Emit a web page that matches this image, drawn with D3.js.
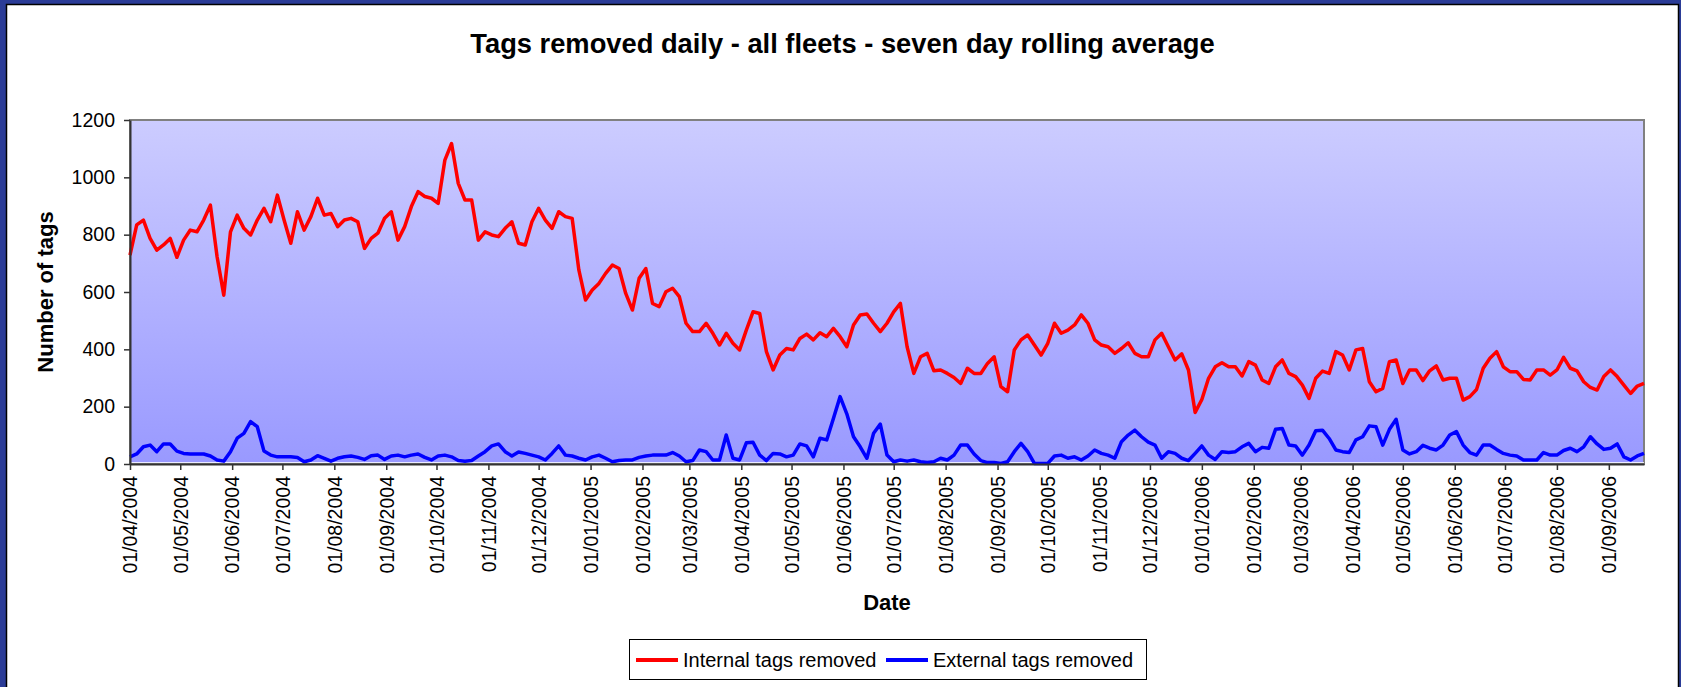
<!DOCTYPE html>
<html>
<head>
<meta charset="utf-8">
<title>Tags removed daily</title>
<script src="https://cdn.jsdelivr.net/npm/d3@7"></script>
<style>
    html, body { margin: 0; padding: 0; background: #2b3c97; }
    svg { display: block; font-family: "Liberation Sans", Arial, sans-serif; }
</style>
</head>
<body>
<div id="chart"></div>
<script>
// seven day rolling averages, every 4th day from 01/04/2004
const startDate = "2004-04-01";
const endDate = "2006-09-22";
const stepDays = 4;

const internalTags = [
    729, 834, 851, 787, 746, 764, 787, 721, 781, 816,
    810, 851, 903, 723, 589, 810, 868, 822, 799, 851,
    892, 845, 938, 851, 770, 880, 816, 863, 927, 868,
    874, 828, 851, 857, 845, 752, 787, 805, 857, 880,
    781, 828, 898, 950, 933, 927, 909, 1060, 1118, 979,
    921, 921, 781, 810, 799, 793, 822, 845, 770, 764,
    845, 892, 851, 822, 880, 863, 857, 677, 572, 607,
    630, 665, 694, 682, 595, 537, 648, 682, 560, 549,
    601, 613, 584, 491, 462, 462, 491, 456, 415, 456,
    421, 398, 467, 531, 525, 392, 328, 380, 403, 398,
    438, 453, 433, 458, 444, 473, 444, 409, 485, 520,
    523, 491, 462, 491, 531, 560, 409, 316, 374, 386,
    325, 328, 316, 302, 281, 334, 316, 316, 351, 374,
    270, 252, 398, 433, 450, 415, 380, 421, 491, 456,
    467, 485, 520, 491, 433, 415, 409, 386, 403, 423,
    386, 374, 374, 433, 456, 409, 363, 384, 328, 180,
    225, 299, 339, 353, 339, 339, 307, 357, 345, 293,
    281, 339, 363, 316, 305, 275, 229, 299, 324, 316,
    392, 380, 328, 398, 403, 287, 252, 264, 357, 363,
    281, 328, 328, 291, 325, 342, 293, 299, 299, 223,
    235, 260, 334, 369, 392, 339, 322, 322, 295, 293,
    328, 328, 310, 328, 372, 334, 325, 287, 267, 258,
    305, 328, 305, 275, 246, 272, 281
];

const externalTags = [
    25, 35, 60, 66, 43, 70, 70, 45, 37, 35,
    35, 35, 28, 14, 10, 43, 90, 107, 148, 130,
    45, 31, 25, 25, 25, 23, 8, 14, 29, 20,
    10, 20, 25, 28, 23, 16, 29, 31, 16, 28,
    31, 25, 31, 35, 23, 14, 28, 31, 25, 12,
    10, 12, 28, 43, 63, 70, 43, 28, 42, 37,
    31, 25, 14, 37, 63, 31, 28, 20, 14, 25,
    31, 20, 8, 12, 14, 14, 23, 28, 31, 31,
    31, 40, 28, 8, 12, 49, 43, 14, 14, 101,
    20, 14, 74, 76, 31, 12, 37, 35, 25, 31,
    70, 63, 25, 90, 84, 159, 235, 175, 95, 60,
    20, 107, 139, 31, 8, 14, 10, 14, 8, 5,
    8, 20, 14, 31, 66, 66, 35, 12, 5, 5,
    2, 8, 43, 72, 43, 2, 2, 2, 28, 31,
    20, 25, 14, 28, 49, 37, 31, 20, 78, 101,
    118, 95, 76, 66, 20, 43, 37, 20, 12, 37,
    63, 31, 16, 43, 40, 43, 60, 72, 43, 58,
    55, 121, 124, 66, 63, 31, 66, 116, 118, 89,
    49, 43, 40, 84, 95, 133, 130, 66, 121, 156,
    49, 35, 43, 65, 55, 49, 66, 101, 113, 66,
    40, 31, 66, 66, 51, 37, 31, 28, 14, 14,
    14, 40, 31, 31, 47, 55, 43, 60, 95, 70,
    51, 55, 70, 25, 14, 28, 37
];

const yTicks = [0, 200, 400, 600, 800, 1000, 1200];
const seriesNames = ["Internal tags removed", "External tags removed"];
const seriesColors = ["#ff0000", "#0000ff"];

document.addEventListener('DOMContentLoaded', () => {
    const width = 1681;
    const height = 687;
    const plot = { left: 130, right: 1644, top: 120, bottom: 464 };

    const svg = d3.select("#chart")
        .append("svg")
        .attr("width", width)
        .attr("height", height);

    // frame
    svg.append("rect")
        .attr("width", width).attr("height", height)
        .attr("fill", "#2b3c97");
    svg.append("rect")
        .attr("x", 6.5).attr("y", 4.5)
        .attr("width", 1672).attr("height", 720)
        .attr("fill", "#fff")
        .attr("stroke", "#000")
        .attr("stroke-width", 1.5);

    const parse = d3.utcParse("%Y-%m-%d");
    const t0 = parse(startDate);
    const t1 = parse(endDate);
    const dates = internalTags.map((d, i) => d3.utcDay.offset(t0, i * stepDays));

    const x = d3.scaleUtc()
        .domain([t0, t1])
        .range([plot.left, plot.right]);

    const y = d3.scaleLinear()
        .domain([0, 1200])
        .range([plot.bottom, plot.top]);

    // plot area gradient
    const defs = svg.append("defs");
    const grad = defs.append("linearGradient")
        .attr("id", "bg")
        .attr("x1", 0).attr("y1", 0).attr("x2", 0).attr("y2", 1);
    grad.append("stop").attr("offset", "0%").attr("stop-color", "#ccccff");
    grad.append("stop").attr("offset", "100%").attr("stop-color", "#9999ff");

    svg.append("rect")
        .attr("x", plot.left).attr("y", plot.top)
        .attr("width", plot.right - plot.left)
        .attr("height", plot.bottom - plot.top)
        .attr("fill", "url(#bg)")
        .attr("stroke", "#808080")
        .attr("stroke-width", 2);

    svg.append("line")
        .attr("x1", plot.left).attr("x2", plot.right)
        .attr("y1", plot.bottom - 1.5).attr("y2", plot.bottom - 1.5)
        .attr("stroke", "#fff")
        .attr("stroke-opacity", 0.8);

    // series
    const line = d3.line()
        .x((d, i) => x(dates[i]))
        .y(d => y(d));

    const g = svg.append("g");
    [internalTags, externalTags].forEach((series, k) => {
        g.append("path")
            .datum(series)
            .attr("fill", "none")
            .attr("stroke", seriesColors[k])
            .attr("stroke-width", 3.5)
            .attr("stroke-linejoin", "round")
            .attr("d", line);
    });

    // axes
    const monthTicks = d3.utcMonth.range(t0, t1);
    const xAxis = d3.axisBottom(x)
        .tickValues(monthTicks)
        .tickFormat(d3.utcFormat("%d/%m/%Y"))
        .tickSize(6)
        .tickSizeOuter(0);

    const xg = svg.append("g")
        .attr("transform", `translate(0,${plot.bottom})`)
        .call(xAxis);
    xg.selectAll("text")
        .attr("transform", "rotate(-90)")
        .attr("text-anchor", "end")
        .attr("x", -12)
        .attr("y", 0)
        .attr("dy", "0.35em")
        .attr("font-size", "19.5px")
        .attr("font-family", null)
        .attr("fill", "#000");

    const yAxis = d3.axisLeft(y)
        .tickValues(yTicks)
        .tickFormat(d3.format("d"))
        .tickSize(6)
        .tickPadding(9)
        .tickSizeOuter(0);

    const yg = svg.append("g")
        .attr("transform", `translate(${plot.left},0)`)
        .call(yAxis);
    yg.selectAll("text")
        .attr("font-size", "19.5px")
        .attr("font-family", null)
        .attr("fill", "#000");

    [xg, yg].forEach(a => {
        a.select(".domain").attr("stroke", "#333").attr("stroke-width", 2);
        a.selectAll(".tick line").attr("stroke", "#333").attr("stroke-width", 1.5);
    });

    // titles
    svg.append("text")
        .attr("x", 842.5).attr("y", 53)
        .attr("text-anchor", "middle")
        .attr("font-size", "27.3px")
        .attr("font-weight", "bold")
        .text("Tags removed daily - all fleets - seven day rolling average");

    svg.append("text")
        .attr("transform", `translate(53,${(plot.top + plot.bottom) / 2}) rotate(-90)`)
        .attr("text-anchor", "middle")
        .attr("font-size", "22px")
        .attr("font-weight", "bold")
        .text("Number of tags");

    svg.append("text")
        .attr("x", (plot.left + plot.right) / 2).attr("y", 610)
        .attr("text-anchor", "middle")
        .attr("font-size", "22px")
        .attr("font-weight", "bold")
        .text("Date");

    // legend
    const legend = svg.append("g").attr("transform", "translate(629,639)");
    legend.append("rect")
        .attr("x", 0.5).attr("y", 0.5)
        .attr("width", 517).attr("height", 40)
        .attr("fill", "#fff")
        .attr("stroke", "#000")
        .attr("stroke-width", 1);

    const itemX = [7, 257];
    seriesNames.forEach((name, k) => {
        const item = legend.append("g").attr("transform", `translate(${itemX[k]},0)`);
        item.append("line")
            .attr("x1", 0).attr("x2", 42)
            .attr("y1", 21).attr("y2", 21)
            .attr("stroke", seriesColors[k])
            .attr("stroke-width", 4);
        item.append("text")
            .attr("x", 47).attr("y", 28)
            .attr("font-size", "20px")
            .text(name);
    });
});
</script>
</body>
</html>
